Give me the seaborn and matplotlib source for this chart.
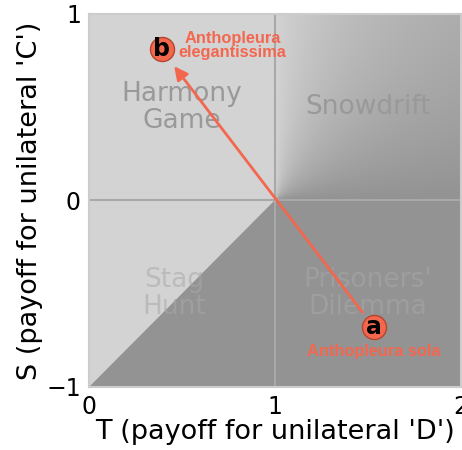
import numpy as np
import pandas as pd
import matplotlib
matplotlib.use('Agg')
import matplotlib.pyplot as plt
from matplotlib.patches import Polygon
import seaborn as sb

light_grey = '#d3d3d3'
dark_grey = '#939393'
red = '#f4674f'

# Species positions in (T, S) space
species = ['a', 'b']
species_names = ['Anthopleura sola', 'Anthopleura\nelegantissima']
T_vals = [1.53, 0.39]
S_vals = [-0.68, 0.81]

# Game regions
region_names = ['Harmony\nGame', 'Snowdrift', 'Stag\nHunt', "Prisoners'\nDilemma"]
region_T = [0.5, 1.5, 0.46, 1.5]
region_S = [0.5, 0.5, -0.5, -0.5]

df = pd.DataFrame({'T': T_vals, 'S': S_vals, 'label': species})

sb.set_theme(style='white')
plt.rcParams['font.family'] = ['DejaVu Sans']

fig = plt.figure(figsize=(4.62, 4.5), dpi=100)
ax = fig.add_axes([0.193, 0.14, 0.805, 0.829])
ax.set_facecolor(dark_grey)

# light area: harmony game + upper half of stag hunt
ax.add_patch(Polygon([(0, -1), (0, 1), (1, 1), (1, 0)], closed=True,
                     facecolor=light_grey, edgecolor='none', zorder=0))

# snowdrift shading: share of cooperators S/(S+T-1)
tt, ss = np.meshgrid(np.linspace(1, 2, 300), np.linspace(0, 1, 300))
frac = (ss / (ss + tt - 1 + 1e-9)) ** 1.3
lo = matplotlib.colors.to_rgb(dark_grey)
hi = matplotlib.colors.to_rgb(light_grey)
img = np.zeros(frac.shape + (3,))
for k in range(3):
    img[..., k] = lo[k] + frac * (hi[k] - lo[k])
ax.imshow(img, extent=[1, 2, 0, 1], origin='lower', aspect='auto',
          interpolation='bilinear', zorder=0.5)

ax.axvline(1, color='#a8a8a8', lw=1.5, zorder=1)
ax.axhline(0, color='#a8a8a8', lw=1.5, zorder=1)

# region labels
for i in range(len(region_names)):
    if i < 2:
        c, a = '#999999', 1.0
    else:
        c, a = '#a8a8a8', 0.55
    ax.text(region_T[i], region_S[i], region_names[i], ha='center', va='center',
            fontsize=19, color=c, alpha=a, linespacing=1.05, zorder=2)

# arrow a -> b
ax.annotate('', xy=(0.457, 0.72), xytext=(1.47, -0.60),
            arrowprops=dict(arrowstyle='-|>', color=red, lw=2,
                            mutation_scale=20, shrinkA=0, shrinkB=0),
            zorder=3)

sb.scatterplot(data=df, x='T', y='S', s=300, color=red, edgecolor='#b5452f',
               linewidth=1, zorder=4, ax=ax, legend=False)
for i in range(len(species)):
    ax.text(T_vals[i], S_vals[i], species[i], ha='center', va='center',
            fontsize=17, fontweight='bold', color='black', zorder=5)

ax.text(0.77, 0.83, species_names[1], ha='center', va='center', fontsize=11.8,
        fontweight='bold', color=red, family='Liberation Sans', linespacing=0.95,
        zorder=5)
ax.text(1.53, -0.81, species_names[0], ha='center', va='center', fontsize=11.8,
        fontweight='bold', color=red, family='Liberation Sans', zorder=5)

ax.set_xlim(0, 2)
ax.set_ylim(-1, 1)
ax.set_xticks([0, 1, 2])
ax.set_yticks([-1, 0, 1])
ax.tick_params(length=0, labelsize=17, pad=6, colors='black')
ax.set_xlabel("T (payoff for unilateral 'D')", fontsize=19.5, labelpad=0,
              color='black')
ax.set_ylabel("S (payoff for unilateral 'C')", fontsize=19.5, labelpad=2,
              color='black')
for sp in ax.spines.values():
    sp.set_color('#cccccc')
    sp.set_linewidth(1.5)

plt.savefig('out.png', dpi=100)
